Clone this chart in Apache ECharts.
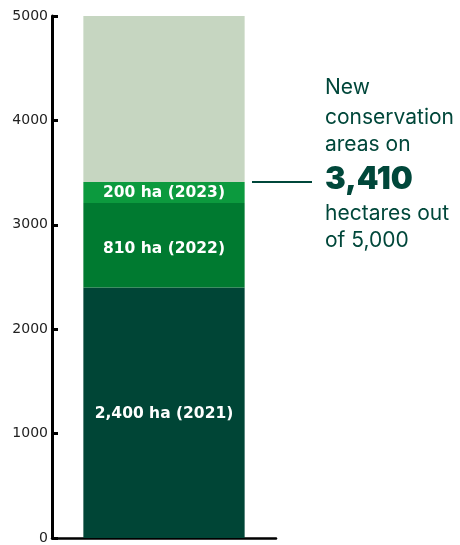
<!DOCTYPE html>
<html>
<head>
<meta charset="utf-8">
<script src="https://cdn.jsdelivr.net/npm/echarts@6/dist/echarts.min.js"></script>
<style>
  html, body { margin: 0; padding: 0; background: #ffffff; }
  #chart { width: 460px; height: 545px; }
</style>
</head>
<body>
<div id="chart"></div>
<script>
// Conserved area (hectares) added per year, stacked within the 5,000 ha target
const categories = ['Conservation'];
const years = ['2021', '2022', '2023'];
const hectares = [2400, 810, 200];
const target = 5000;
const yTicks = [0, 1000, 2000, 3000, 4000, 5000];
const segmentColors = ['#004536', '#007a30', '#0c9a3e'];
const remainderColor = '#c6d6c1';
const calloutLines = ['New', 'conservation', 'areas on', null, 'hectares out', 'of 5,000'];

const total = hectares.reduce((a, b) => a + b, 0);
const fmt = v => v.toLocaleString('en-US');
const labelOffsets = [[0, 1], [0, 4], [0, 1]];

const chart = echarts.init(document.getElementById('chart'), null, { renderer: 'canvas' });

const series = hectares.map((v, i) => ({
  name: years[i],
  type: 'bar',
  stack: 'total',
  barWidth: '72%',
  data: [v],
  itemStyle: { color: segmentColors[i] },
  label: {
    show: true,
    position: 'inside',
    offset: labelOffsets[i],
    formatter: () => fmt(v) + ' ha (' + years[i] + ')',
    color: '#ffffff',
    fontFamily: 'DejaVu Sans',
    fontWeight: 'bold',
    fontSize: 15.5
  },
  emphasis: { disabled: true }
}));
series.push({
  name: 'remaining',
  type: 'bar',
  stack: 'total',
  barWidth: '72%',
  data: [target - total],
  itemStyle: { color: remainderColor },
  label: { show: false },
  emphasis: { disabled: true }
});

chart.setOption({
  animation: false,
  grid: { left: 52, right: 184, top: 16, bottom: 6, containLabel: false },
  xAxis: {
    type: 'category',
    data: categories,
    axisLine: { show: true, lineStyle: { color: '#000', width: 2.5 } },
    axisTick: { show: false },
    axisLabel: { show: false },
    splitLine: { show: false }
  },
  yAxis: {
    type: 'value',
    min: yTicks[0],
    max: yTicks[yTicks.length - 1],
    interval: yTicks[1] - yTicks[0],
    axisLine: { show: true, lineStyle: { color: '#000', width: 3 } },
    axisTick: { show: true, inside: true, length: 6, lineStyle: { color: '#000', width: 3 } },
    axisLabel: {
      color: '#222', fontFamily: 'DejaVu Sans', fontSize: 14, margin: 4,
      formatter: v => String(v)
    },
    splitLine: { show: false }
  },
  series: series
});

// Callout: connector at the stacked total plus the descriptive text block
const yTotal = chart.convertToPixel({ yAxisIndex: 0 }, total);
const textX = 325;
const textColor = '#00473a';
const lineCenters = [88, 118, 145, null, 214, 241];
const elements = [{
  type: 'line',
  shape: { x1: 252, y1: yTotal, x2: 312, y2: yTotal },
  style: { stroke: textColor, lineWidth: 2 }
}, {
  type: 'text',
  x: textX, y: yTotal - 2,
  style: {
    text: fmt(total), fill: textColor, fontFamily: 'Inter', fontWeight: 900,
    fontSize: 31, verticalAlign: 'middle', align: 'left'
  }
}];
calloutLines.forEach((t, i) => {
  if (t === null) return;
  elements.push({
    type: 'text',
    x: textX, y: lineCenters[i],
    style: {
      text: t, fill: textColor, fontFamily: 'Inter', fontSize: 21,
      verticalAlign: 'middle', align: 'left'
    }
  });
});
chart.setOption({ graphic: elements });
</script>
</body>
</html>
